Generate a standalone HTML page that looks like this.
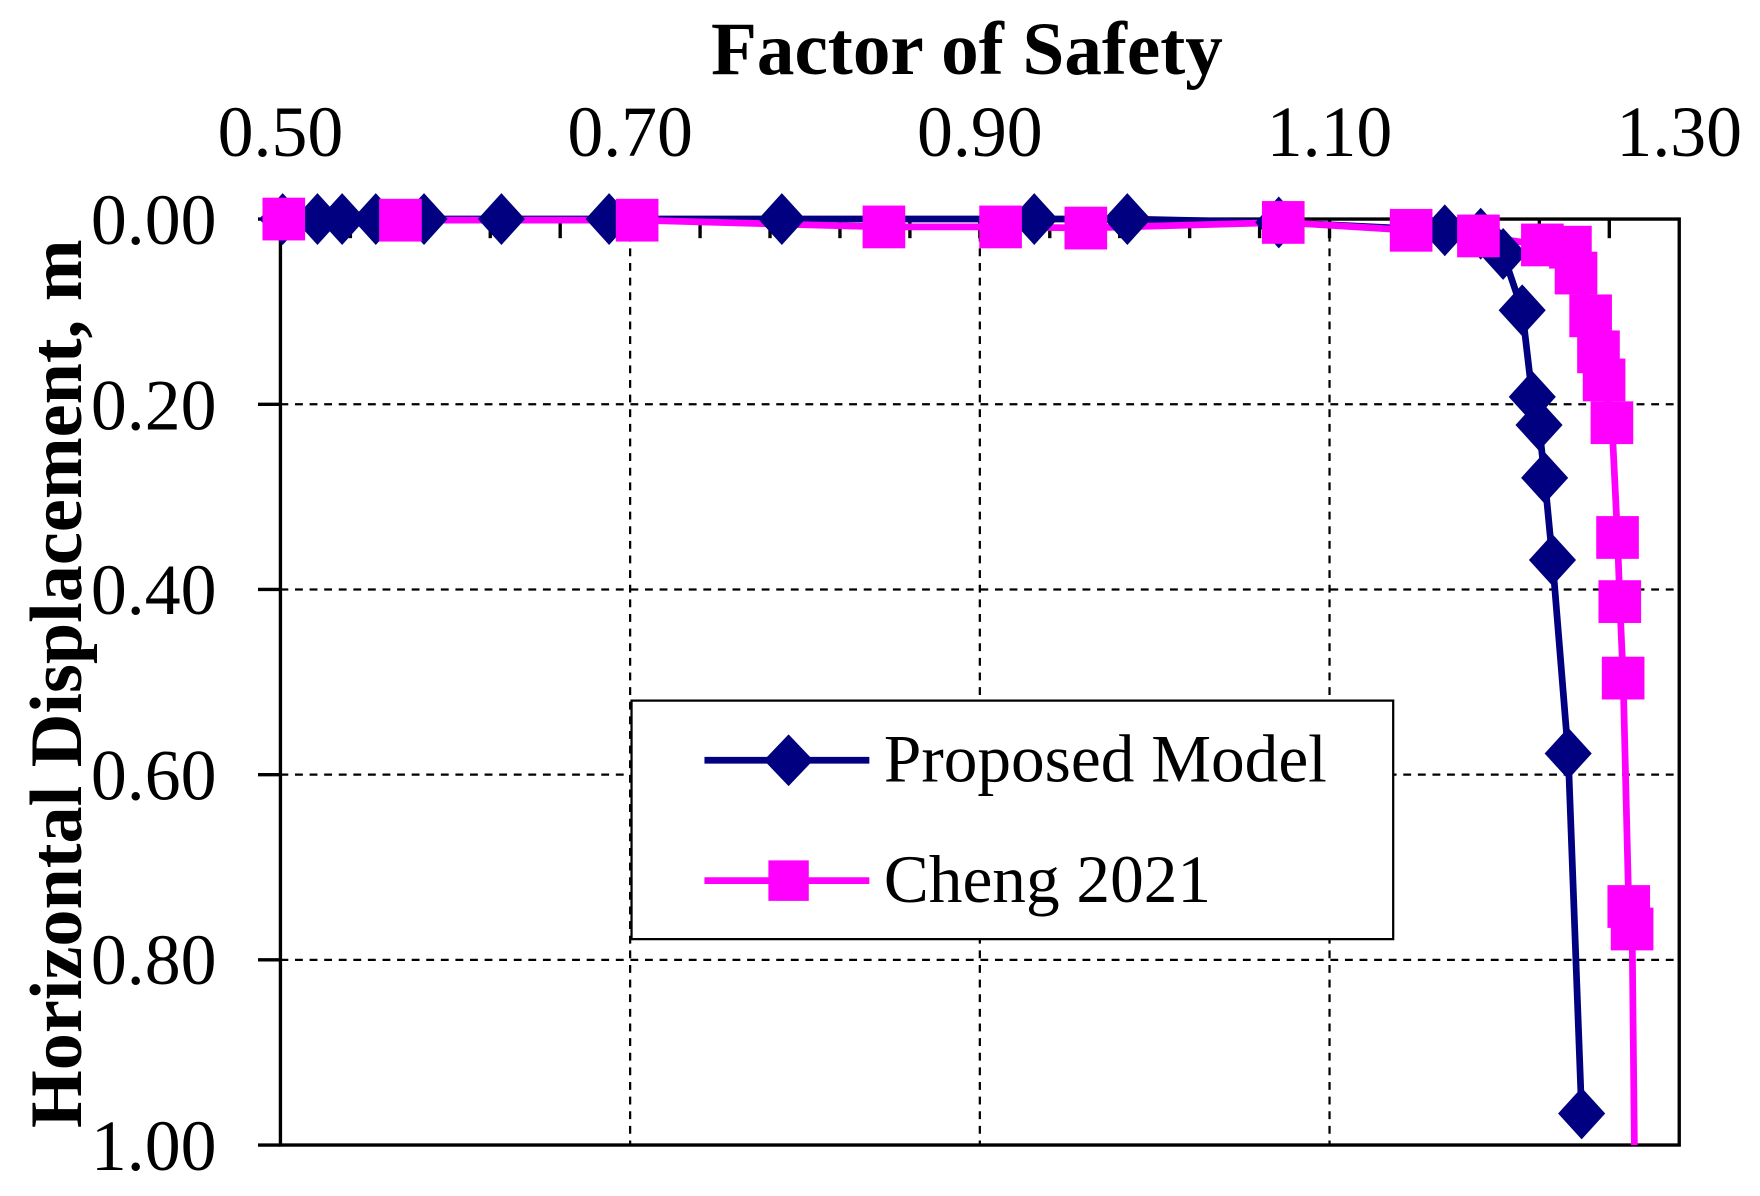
<!DOCTYPE html>
<html><head><meta charset="utf-8"><style>html,body{margin:0;padding:0;background:#fff}svg{display:block}</style></head><body>
<svg width="1760" height="1196" viewBox="0 2.3 1569 1063" preserveAspectRatio="none" xmlns="http://www.w3.org/2000/svg" font-family="Liberation Serif, serif">
<rect x="0" y="0" width="1569" height="1070" fill="#fff"/>
<g stroke="#000" stroke-width="2" stroke-dasharray="7,6">
<line x1="561.75" y1="197" x2="561.75" y2="1020"/><line x1="873.5" y1="197" x2="873.5" y2="1020"/><line x1="1185.25" y1="197" x2="1185.25" y2="1020"/>
<line x1="250" y1="361.6" x2="1497" y2="361.6"/><line x1="250" y1="526.2" x2="1497" y2="526.2"/><line x1="250" y1="690.8" x2="1497" y2="690.8"/><line x1="250" y1="855.4" x2="1497" y2="855.4"/>
</g>
<rect x="250" y="197" width="1247" height="823" fill="none" stroke="#000" stroke-width="3"/>
<g stroke="#000" stroke-width="3" id="ticks"></g>
<g font-size="64" text-anchor="middle">
<text x="250" y="141">0.50</text><text x="561.75" y="141">0.70</text><text x="873.5" y="141">0.90</text><text x="1185.25" y="141">1.10</text><text x="1497" y="141">1.30</text>
</g>
<g font-size="64" text-anchor="end">
<text x="193" y="219">0.00</text><text x="193" y="384">0.20</text><text x="193" y="548">0.40</text><text x="193" y="713">0.60</text><text x="193" y="877">0.80</text><text x="193" y="1042">1.00</text>
</g>
<text x="862" y="68" font-size="67" font-weight="bold" text-anchor="middle">Factor of Safety</text>
<text transform="translate(72,610) rotate(-90)" font-size="66" font-weight="bold" text-anchor="middle">Horizontal Displacement, m</text>
<g id="series"></g>
<rect x="563" y="625" width="679" height="212" fill="#fff" stroke="#000" stroke-width="2"/>
<line x1="628" y1="678" x2="775" y2="678" stroke="#000080" stroke-width="6"/>
<polygon points="703,655 725,678 703,701 681,678" fill="#000080"/>
<text x="788" y="697" font-size="60">Proposed Model</text>
<line x1="628" y1="785" x2="775" y2="785" stroke="#ff00ff" stroke-width="6"/>
<rect x="685" y="767" width="36" height="36" fill="#ff00ff"/>
<text x="788" y="804" font-size="60">Cheng 2021</text>
<script>
var ns="http://www.w3.org/2000/svg";
var t=document.getElementById("ticks");
for(var v=0.54;v<1.29;v+=0.04){var x=250+(v-0.5)*1558.75;var l=document.createElementNS(ns,"line");l.setAttribute("x1",x);l.setAttribute("x2",x);l.setAttribute("y1",197);l.setAttribute("y2",214);t.appendChild(l);}
for(var i=0;i<=5;i++){var y=197+i*164.6;var l=document.createElementNS(ns,"line");l.setAttribute("x1",230);l.setAttribute("x2",250);l.setAttribute("y1",y);l.setAttribute("y2",y);t.appendChild(l);}
var P=[[252,197],[283,197],[305,197],[335,197],[378,197],[447,197],[543,197],[697,197],[922,197],[1005,197],[1140,200],[1288,207],[1320,210],[1340,228],[1357,278],[1366,355],[1372,380],[1377,427],[1384,500],[1398,672],[1410,992]];
var C=[[253,197],[357,198],[568,198],[788,204],[892,204],[968,205],[1144,200],[1258,207],[1318,212],[1375,220],[1400,222],[1405,245],[1418,283],[1425,315],[1430,340],[1437,378],[1442,480],[1444,537],[1447,605],[1452,808],[1455,828],[1457,1020]];
var s=document.getElementById("series");
function pl(d,c){var p=document.createElementNS(ns,"polyline");p.setAttribute("points",d.map(function(a){return a.join(",")}).join(" "));p.setAttribute("fill","none");p.setAttribute("stroke",c);p.setAttribute("stroke-width","6");s.appendChild(p);}
pl(P,"#000080");pl(C,"#ff00ff");
P.forEach(function(a){var g=document.createElementNS(ns,"polygon");g.setAttribute("points",(a[0])+","+(a[1]-23)+" "+(a[0]+21)+","+a[1]+" "+a[0]+","+(a[1]+23)+" "+(a[0]-21)+","+a[1]);g.setAttribute("fill","#000080");s.appendChild(g);});
C.slice(0,21).forEach(function(a){var r=document.createElementNS(ns,"rect");r.setAttribute("x",a[0]-19);r.setAttribute("y",a[1]-19);r.setAttribute("width",38);r.setAttribute("height",38);r.setAttribute("fill","#ff00ff");s.appendChild(r);});
</script>
</svg>
</body></html>
